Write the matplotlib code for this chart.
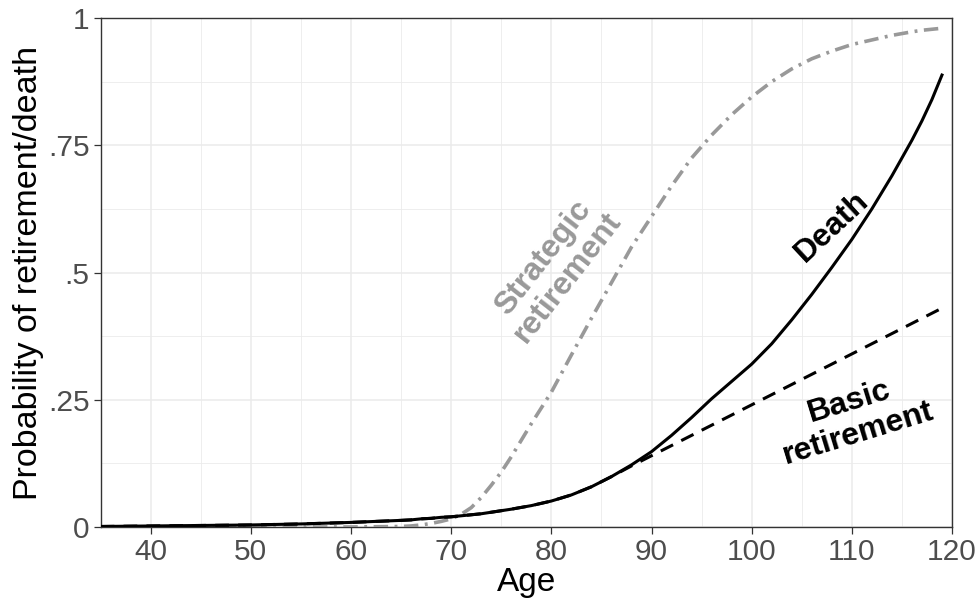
import matplotlib
matplotlib.use("Agg")
import matplotlib.pyplot as plt
from matplotlib.ticker import MultipleLocator

# data
age = [35, 40, 45, 50, 55, 60, 65, 66, 67, 68, 69, 70, 71, 72, 73, 74, 75, 76,
       78, 80, 82, 84, 86, 88, 90, 92, 94, 96, 98, 100, 102, 104, 106, 108,
       110, 112, 114, 116, 117, 118, 119]
death = [0.001, 0.002, 0.003, 0.004, 0.006, 0.009, 0.013, 0.014, 0.016, 0.017,
         0.019, 0.020, 0.022, 0.024, 0.026, 0.029, 0.032, 0.035, 0.042, 0.051,
         0.063, 0.079, 0.099, 0.122, 0.148, 0.180, 0.215, 0.252, 0.286, 0.320,
         0.360, 0.407, 0.457, 0.510, 0.565, 0.625, 0.690, 0.760, 0.798, 0.840,
         0.888]
basic = [0.001, 0.002, 0.003, 0.004, 0.006, 0.009, 0.013, 0.014, 0.016, 0.017,
         0.019, 0.020, 0.022, 0.024, 0.026, 0.029, 0.032, 0.035, 0.042, 0.051,
         0.063, 0.079, 0.099, 0.120, 0.140, 0.160, 0.180, 0.200, 0.220, 0.240,
         0.260, 0.280, 0.300, 0.320, 0.340, 0.360, 0.380, 0.400, 0.410, 0.420,
         0.430]
strategic = [0.0, 0.0, 0.0, 0.0, 0.0, 0.0, 0.001, 0.002, 0.004, 0.007, 0.011,
             0.016, 0.025, 0.038, 0.058, 0.082, 0.108, 0.138, 0.203, 0.265,
             0.338, 0.410, 0.480, 0.550, 0.610, 0.670, 0.725, 0.770, 0.810,
             0.845, 0.875, 0.900, 0.920, 0.935, 0.948, 0.957, 0.966, 0.973,
             0.976, 0.978, 0.980]

y_ticks = [0, 0.25, 0.5, 0.75, 1]
y_tick_labels = ["0", ".25", ".5", ".75", "1"]
x_ticks = [40, 50, 60, 70, 80, 90, 100, 110, 120]

plt.rcParams["font.family"] = ["Liberation Sans", "DejaVu Sans"]

fig = plt.figure(figsize=(9.77, 6.02), dpi=100)
ax = fig.add_axes([0.1030, 0.1246, 0.9744 - 0.1030, 0.970 - 0.1246])

grey = "#999999"
ax.plot(age, strategic, color=grey, lw=2.6, dashes=(4, 1.8, 0.8, 1.8),
        zorder=3)
ax.plot(age, basic, color="black", lw=2.2, dashes=(4.5, 3), zorder=4)
ax.plot(age, death, color="black", lw=2.2, zorder=5)

ax.set_xlim(35, 120)
ax.set_ylim(0, 1)
ax.set_xticks(x_ticks)
ax.set_yticks(y_ticks)
ax.set_yticklabels(y_tick_labels)
ax.xaxis.set_minor_locator(MultipleLocator(5))
ax.yaxis.set_minor_locator(MultipleLocator(0.125))

ax.grid(which="major", color="#EBEBEB", lw=1.1)
ax.grid(which="minor", color="#EBEBEB", lw=0.6)
ax.set_axisbelow(True)
ax.tick_params(which="minor", length=0)
ax.tick_params(which="major", length=5, width=0.9, color="#333333",
               labelcolor="#4D4D4D", labelsize=21.5, pad=3)
for s in ax.spines.values():
    s.set_color("#333333")
    s.set_linewidth(1.0)

ax.set_xlabel("Age", fontsize=24, labelpad=1)
ax.set_ylabel("Probability of retirement/death", fontsize=24.5, labelpad=3)

ax.text(80.4, 0.51, "Strategic\nretirement", color=grey, fontsize=23,
        fontweight="bold", rotation=52, ha="center", va="center",
        linespacing=1.05, rotation_mode="anchor")
ax.text(108.0, 0.59, "Death", color="black", fontsize=23, fontweight="bold",
        rotation=43, ha="center", va="center", rotation_mode="anchor")
ax.text(110.2, 0.215, "Basic\nretirement", color="black", fontsize=23,
        fontweight="bold", rotation=17, ha="center", va="center",
        linespacing=1.15, rotation_mode="anchor")

fig.savefig("out.png", dpi=100)
